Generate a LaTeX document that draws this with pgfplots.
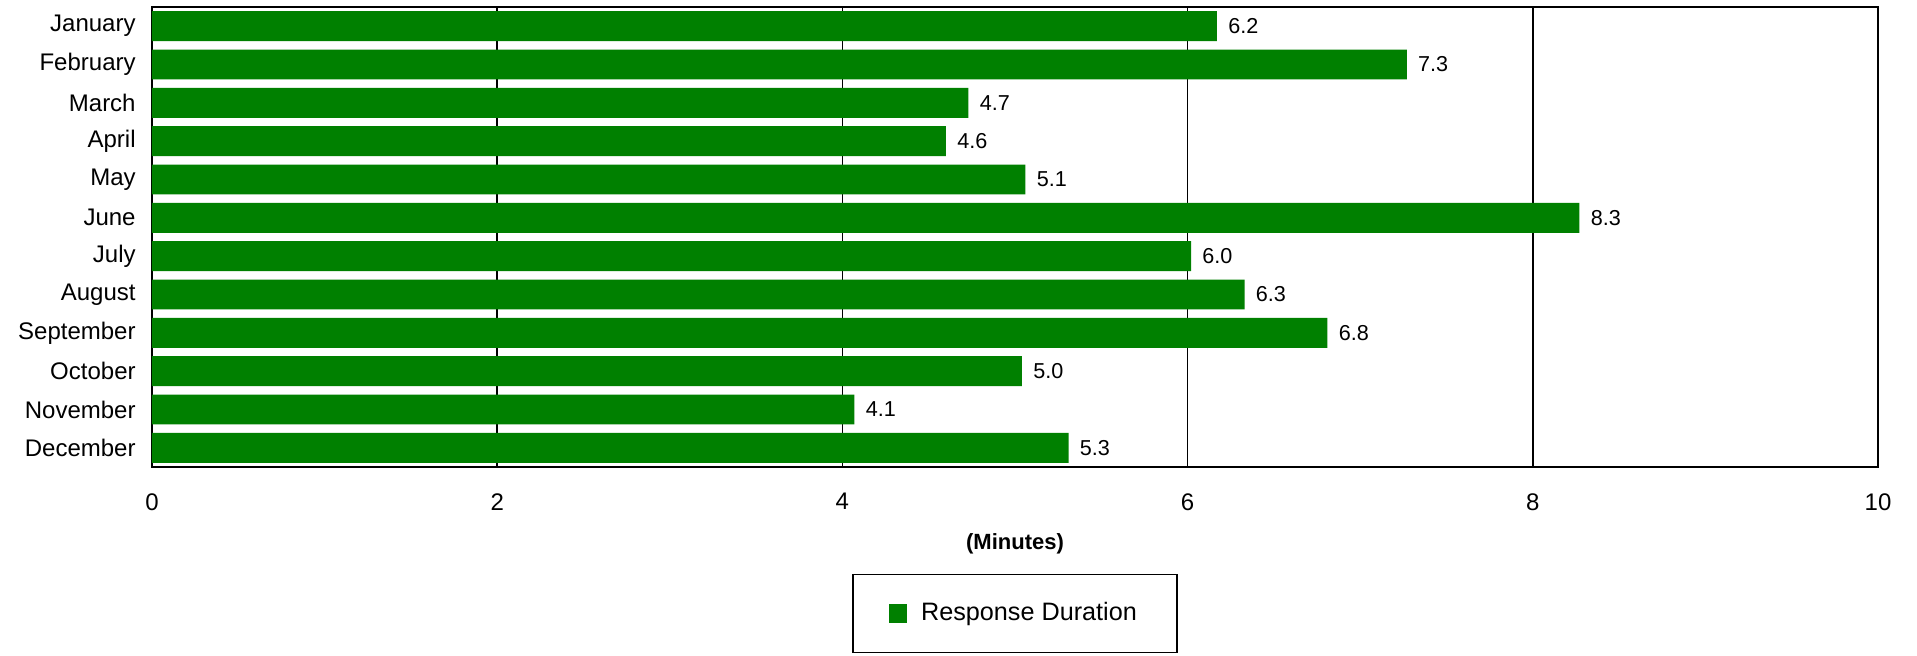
\documentclass[border=0pt]{standalone}
\usepackage{fontspec}
\setmainfont{Liberation Sans}
\usepackage{pgfplots}
\pgfplotsset{compat=1.18}
\definecolor{bargreen}{RGB}{0,128,0}

\begin{document}
\fontsize{12}{14}\selectfont
\begin{tikzpicture}
  \begin{axis}[
    scale only axis,
    width=863pt, height=230pt,
    xbar, bar width=0.78,
    y dir=reverse,
    xmin=0, xmax=10,
    ymin=-0.5, ymax=11.5,
    xtick={0,2,4,6,8,10},
    ytick={0,...,11},
    yticklabels={January,February,March,April,May,June,July,August,September,October,November,December},
    major tick length=0pt,
    xmajorgrids,
    grid style={black, line width=0.85pt},
    axis line style={line width=1pt},
    /pgf/number format/assume math mode=true,
    tick label style={font=\fontsize{12}{14}\selectfont},
    xticklabel style={yshift=-9pt},
    yticklabel style={xshift=-4pt},
    xlabel={\textbf{(Minutes)}},
    xlabel style={at={(axis description cs:0.5,0)}, anchor=north, yshift=-29pt, font=\fontsize{11}{13}\selectfont},
    nodes near coords,
    nodes near coords style={anchor=west, xshift=1.5pt, font=\fontsize{10.8}{12}\selectfont,
      /pgf/number format/.cd, fixed, fixed zerofill, precision=1, assume math mode=true},
    legend style={at={(0.5,-0.2325)}, anchor=north, draw=black, line width=0.7pt,
      inner xsep=18pt, inner ysep=12pt, font=\fontsize{12.6}{14}\selectfont},
    legend image code/.code={\fill[bargreen] (0pt,-4.5pt) rectangle (9pt,4.6pt);},
  ]
    \addplot[fill=bargreen, draw=none] coordinates {
      (6.17,0) (7.27,1) (4.73,2) (4.60,3) (5.06,4) (8.27,5)
      (6.02,6) (6.33,7) (6.81,8) (5.04,9) (4.07,10) (5.31,11)
    };
    \addlegendentry{\hspace{5pt}Response Duration\hspace{12pt}}
  \end{axis}
  \pgfresetboundingbox
  \path[use as bounding box] (-76pt,-94pt) rectangle (882.5pt,233.5pt);
\end{tikzpicture}
\end{document}
